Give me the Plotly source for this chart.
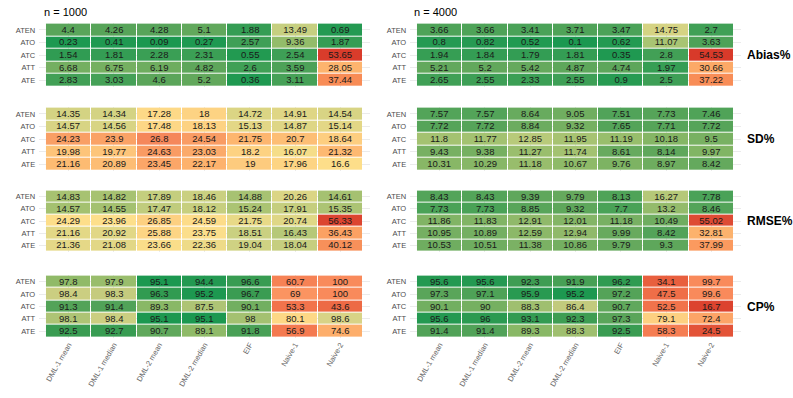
import numpy as np
import plotly.graph_objects as go

methods = ["DML-1 mean", "DML-1 median", "DML-2 mean", "DML-2 median", "EIF", "Naive-1", "Naive-2"]
estimands = ["ATEN", "ATO", "ATC", "ATT", "ATE"]

abias_1000 = [[4.4, 4.26, 4.28, 5.1, 1.88, 13.49, 0.69],
              [0.23, 0.41, 0.09, 0.27, 2.57, 9.36, 1.87],
              [1.54, 1.81, 2.28, 2.31, 0.55, 2.54, 53.65],
              [6.68, 6.75, 6.19, 4.82, 2.6, 3.59, 28.05],
              [2.83, 3.03, 4.6, 5.2, 0.36, 3.11, 37.44]]
abias_4000 = [[3.66, 3.66, 3.41, 3.71, 3.47, 14.75, 2.7],
              [0.8, 0.82, 0.52, 0.1, 0.62, 11.07, 3.63],
              [1.94, 1.84, 1.79, 1.81, 0.35, 2.8, 54.53],
              [5.21, 5.2, 5.42, 4.87, 4.74, 1.97, 30.66],
              [2.65, 2.55, 2.33, 2.55, 0.9, 2.5, 37.22]]
sd_1000 = [[14.35, 14.34, 17.28, 18, 14.72, 14.91, 14.54],
           [14.57, 14.56, 17.48, 18.13, 15.13, 14.87, 15.14],
           [24.23, 23.9, 26.8, 24.54, 21.75, 20.7, 18.64],
           [19.98, 19.77, 24.63, 23.03, 18.2, 16.07, 21.32],
           [21.16, 20.89, 23.45, 22.17, 19, 17.96, 16.6]]
sd_4000 = [[7.57, 7.57, 8.64, 9.05, 7.51, 7.73, 7.46],
           [7.72, 7.72, 8.84, 9.32, 7.65, 7.71, 7.72],
           [11.8, 11.77, 12.85, 11.95, 11.19, 10.18, 9.5],
           [9.43, 9.38, 11.27, 11.74, 8.61, 8.14, 9.97],
           [10.31, 10.29, 11.18, 10.67, 9.76, 8.97, 8.42]]
rmse_1000 = [[14.83, 14.82, 17.89, 18.46, 14.88, 20.26, 14.61],
             [14.57, 14.55, 17.47, 18.12, 15.24, 17.91, 15.35],
             [24.29, 23.96, 26.85, 24.59, 21.75, 20.74, 56.33],
             [21.16, 20.92, 25.88, 23.75, 18.51, 16.43, 36.43],
             [21.36, 21.08, 23.66, 22.36, 19.04, 18.04, 40.12]]
rmse_4000 = [[8.43, 8.43, 9.39, 9.79, 8.13, 16.27, 7.78],
             [7.73, 7.73, 8.85, 9.32, 7.7, 13.2, 8.46],
             [11.86, 11.83, 12.91, 12.01, 11.18, 10.49, 55.02],
             [10.95, 10.89, 12.59, 12.94, 9.99, 8.42, 32.81],
             [10.53, 10.51, 11.38, 10.86, 9.79, 9.3, 37.99]]
cp_1000 = [[97.8, 97.9, 95.1, 94.4, 96.6, 60.7, 100],
           [98.4, 98.3, 96.3, 95.2, 96.7, 69, 100],
           [91.3, 91.4, 89.3, 87.5, 90.1, 53.3, 43.6],
           [98.1, 98.4, 95.1, 95.1, 98, 80.1, 98.6],
           [92.5, 92.7, 90.7, 89.1, 91.8, 56.9, 74.6]]
cp_4000 = [[95.6, 95.6, 92.3, 91.9, 96.2, 34.1, 99.7],
           [97.3, 97.1, 95.9, 95.2, 97.2, 47.5, 99.6],
           [90.1, 90, 88.3, 86.4, 90.7, 52.5, 16.7],
           [95.6, 96, 93.1, 92.3, 97.3, 79.1, 72.4],
           [91.4, 91.4, 89.3, 88.3, 92.5, 58.3, 24.5]]


# colour anchors (value, colour) per metric, green -> yellow -> red
anchors = {
    "Abias%": [(0, "#1a9850"), (4.5, "#5aa55a"), (9, "#8fba68"), (13.5, "#c6cf80"),
               (18, "#fddf8b"), (28, "#fdb46e"), (38, "#f88a55"), (54, "#d83a2a")],
    "SD%": [(5, "#1a9850"), (7.9, "#5aa55a"), (10.7, "#8fba68"), (13.6, "#c6cf80"),
            (16.5, "#fddf8b"), (22, "#fdb46e"), (27, "#f5855a"), (34, "#d83a2a")],
    "RMSE%": [(4, "#1a9850"), (9, "#5aa55a"), (14, "#9fbf6e"), (19, "#cfd283"),
              (24, "#fddf8b"), (31, "#fdbb72"), (38, "#fb9a5f"), (56.5, "#dc4430")],
    # CP coloured by distance from nominal 95% in binomial SE units
    "CP%": [(0, "#1a9850"), (3, "#3a9c52"), (4.5, "#5aa55a"), (6, "#8fba68"),
            (8, "#c4cb7e"), (10, "#dcd588"), (11.8, "#fdd886"), (14.8, "#fdae6b"),
            (18, "#fb9260"), (26, "#f2744c"), (40, "#e8603e"), (66, "#dc4430"),
            (70, "#d83a2a")],
}


def make_scale(anc):
    lo, hi = anc[0][0], anc[-1][0]
    return [[(v - lo) / (hi - lo), c] for v, c in anc], lo, hi


def cp_score(vals):
    p = np.clip(np.array(vals) / 100, 0.005, 0.995)
    return np.abs(p - 0.95) / np.sqrt(p * (1 - p) / 1000)


panels = [
    ("Abias%", abias_1000, abias_4000),
    ("SD%", sd_1000, sd_4000),
    ("RMSE%", rmse_1000, rmse_4000),
    ("CP%", cp_1000, cp_4000),
]

W, H = 793, 398
col_px = [(39.2, 369.8), (410.2, 740.8)]
row_px = [(23, 87), (107, 171), (190, 252), (275, 338)]
ex = 0.15

fig = go.Figure()
layout = {}
k = 0
for r, (metric, v1, v2) in enumerate(panels):
    scale, lo, hi = make_scale(anchors[metric])
    for c, vals in enumerate([v1, v2]):
        k += 1
        zc = cp_score(vals) if metric == "CP%" else np.array(vals)
        txt = [[f"{v:g}" for v in row] for row in vals]
        xa = "x" if k == 1 else f"x{k}"
        ya = "y" if k == 1 else f"y{k}"
        fig.add_trace(go.Heatmap(
            z=zc, x=methods, y=estimands, text=txt, texttemplate="%{text}",
            textfont=dict(size=9.5, color="#1a1a1a", family="Liberation Sans, Arial"),
            colorscale=scale, zmin=lo, zmax=hi, showscale=False,
            xgap=1, ygap=1, xaxis=xa, yaxis=ya, hoverinfo="skip"))
        x0, x1 = col_px[c]
        y0, y1 = row_px[r]
        layout["xaxis" if k == 1 else f"xaxis{k}"] = dict(
            domain=[x0 / W, x1 / W], anchor=ya, type="category",
            range=[-0.5 - ex, 6.5 + ex], showgrid=True, gridcolor="#ebebeb",
            zeroline=False, showline=False, ticks="",
            showticklabels=(r == 3), tickangle=-60,
            tickfont=dict(size=7.5, color="#666666"))
        layout["yaxis" if k == 1 else f"yaxis{k}"] = dict(
            domain=[1 - y1 / H, 1 - y0 / H], anchor=xa, type="category",
            range=[4.5 + 0.05, -0.5 - 0.05], showgrid=True, gridcolor="#ebebeb",
            zeroline=False, showline=False, ticks="", ticklabelstandoff=3,
            tickfont=dict(size=7.5, color="#4d4d4d"))

annotations = [
    dict(text="n = 1000", x=42 / W, y=1 - 12 / H, xanchor="left", yanchor="middle",
         font=dict(size=11, color="black")),
    dict(text="n = 4000", x=412 / W, y=1 - 12 / H, xanchor="left", yanchor="middle",
         font=dict(size=11, color="black")),
]
for (metric, _, _), (y0, y1) in zip(panels, row_px):
    annotations.append(dict(text=f"<b>{metric}</b>", x=745 / W, y=1 - (y0 + y1) / 2 / H,
                            xanchor="left", yanchor="middle",
                            font=dict(size=12, color="black")))
for a in annotations:
    a.update(xref="paper", yref="paper", showarrow=False)

fig.update_layout(
    width=W, height=H,
    margin=dict(l=0, r=0, t=0, b=0),
    paper_bgcolor="white", plot_bgcolor="white",
    font=dict(family="Liberation Sans, Arial, sans-serif"),
    annotations=annotations,
    **layout
)

# drop the browser's default body margin so the figure sits at the page corner
fig.write_html("out.html", config={"displayModeBar": False},
               post_script="document.body.style.margin='0';")
